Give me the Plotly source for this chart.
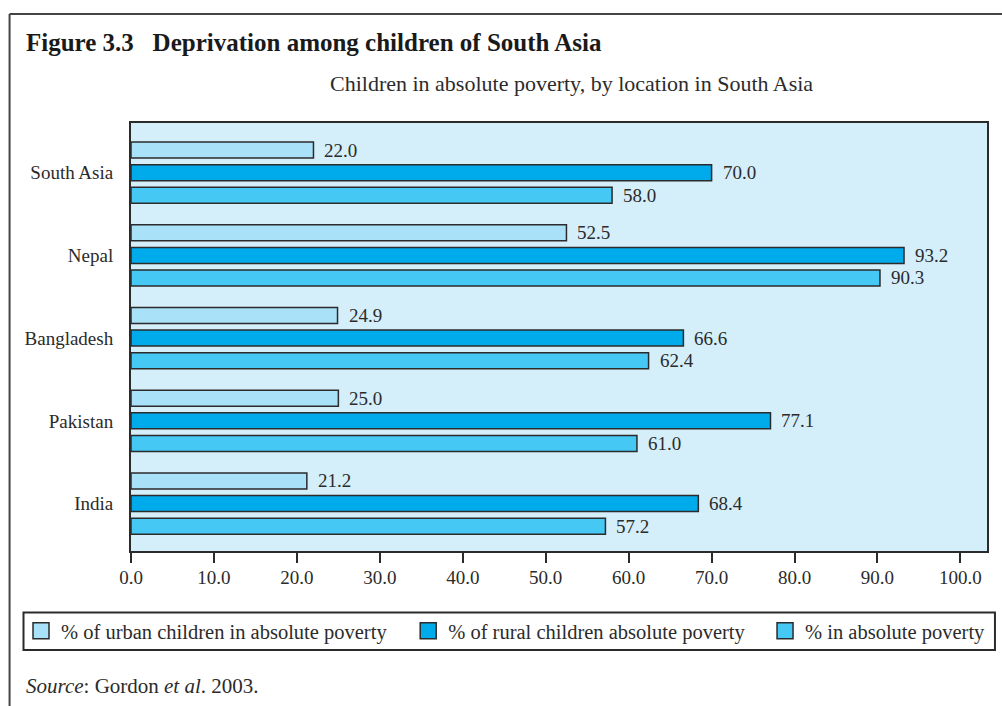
import plotly.graph_objects as go

# ---- data ----
countries = ["India", "Pakistan", "Bangladesh", "Nepal", "South Asia"]
urban = [21.2, 25.0, 24.9, 52.5, 22.0]
rural = [68.4, 77.1, 66.6, 93.2, 70.0]
total = [57.2, 61.0, 62.4, 90.3, 58.0]
series_names = [
    "% of urban children in absolute poverty",
    "% of rural children absolute poverty",
    "% in absolute poverty",
]
tick_vals = [0, 10, 20, 30, 40, 50, 60, 70, 80, 90, 100]
tick_text = ["%.1f" % v for v in tick_vals]

# ---- styling ----
W, H = 1002, 706
ML, MR, MT, MB = 131, 11, 123, 155
PW, PH = W - ML - MR, H - MT - MB
SERIF = "Liberation Serif, Times New Roman, serif"
INK = "#2b2b2b"
C_URBAN, C_RURAL, C_TOTAL = "#A9E1F9", "#00ABEB", "#46C8F4"
PLOT_BG = "#D4EEFA"


def px_x(p):
    return (p - ML) / PW


def px_y(p):
    return (H - MB - p) / PH


fig = go.Figure()

# drawn bottom-to-top inside each group: total, rural, urban
trace_specs = [
    (total, C_TOTAL),
    (rural, C_RURAL),
    (urban, C_URBAN),
]
for vals, color in trace_specs:
    fig.add_trace(go.Bar(
        x=vals, y=countries, orientation="h",
        marker=dict(color=color, line=dict(color=INK, width=1.5)),
        showlegend=False,
    ))

# legend keys (square swatches), one legend per entry
for name, color, lg in [
    (series_names[0], C_URBAN, "legend"),
    (series_names[1], C_RURAL, "legend2"),
    (series_names[2], C_TOTAL, "legend3"),
]:
    fig.add_trace(go.Scatter(
        x=[None], y=[None], mode="markers", name=name, legend=lg,
        marker=dict(symbol="square", size=16, color=color,
                    line=dict(color=INK, width=1.5)),
    ))

# value labels at the end of each bar
slot = 22.6  # pixel spacing between bars of a group
for vals, shift in [(urban, slot), (rural, 0), (total, -slot)]:
    for c, v in zip(countries, vals):
        fig.add_annotation(
            x=v, y=c, xref="x", yref="y", text="%.1f" % v,
            showarrow=False, xanchor="left", yanchor="middle",
            xshift=9, yshift=shift,
            font=dict(family=SERIF, size=19, color=INK),
        )

# titles and source
fig.add_annotation(
    x=px_x(24), y=px_y(42), xref="paper", yref="paper",
    text="<b>Figure 3.3   Deprivation among children of South Asia</b>",
    showarrow=False, xanchor="left", yanchor="middle",
    font=dict(family=SERIF, size=25, color="#1a1a1a"),
)
fig.add_annotation(
    x=px_x(574), y=px_y(83), xref="paper", yref="paper",
    text="Children in absolute poverty, by location in South Asia",
    showarrow=False, xanchor="center", yanchor="middle",
    font=dict(family=SERIF, size=22, color=INK),
)
fig.add_annotation(
    x=px_x(24), y=px_y(686), xref="paper", yref="paper",
    text="<i>Source</i>: Gordon <i>et al</i>. 2003.",
    showarrow=False, xanchor="left", yanchor="middle",
    font=dict(family=SERIF, size=21, color=INK),
)

# outer frame (top and left rules) and legend box
fig.add_shape(type="line", xref="paper", yref="paper",
              x0=px_x(9), x1=px_x(W + 5), y0=px_y(14), y1=px_y(14),
              line=dict(color="#444", width=2))
fig.add_shape(type="line", xref="paper", yref="paper",
              x0=px_x(9), x1=px_x(9), y0=px_y(14), y1=px_y(H + 5),
              line=dict(color="#444", width=2))
fig.add_shape(type="rect", xref="paper", yref="paper",
              x0=px_x(23), x1=px_x(999), y0=px_y(650), y1=px_y(612.5),
              line=dict(color=INK, width=2), fillcolor="rgba(0,0,0,0)")

leg_common = dict(
    orientation="h", yanchor="middle", y=px_y(631), xanchor="left",
    bgcolor="rgba(0,0,0,0)", borderwidth=0,
    font=dict(family=SERIF, size=20.5, color=INK),
)
fig.update_layout(
    legend=dict(x=px_x(20.5), **leg_common),
    legend2=dict(x=px_x(409.5), **leg_common),
    legend3=dict(x=px_x(768), **leg_common),
)

fig.update_layout(
    width=W, height=H,
    margin=dict(l=ML, r=MR, t=MT, b=MB),
    paper_bgcolor="white",
    plot_bgcolor=PLOT_BG,
    barmode="group",
    bargap=0.181,
    bargroupgap=0.292,
    showlegend=True,
    font=dict(family=SERIF, size=19, color=INK),
)
fig.update_xaxes(
    range=[0, PW / 8.333], tickvals=tick_vals, ticktext=tick_text,
    ticks="outside", ticklen=10, tickwidth=1.5, tickcolor=INK,
    ticklabelstandoff=-2,
    showgrid=False, zeroline=False,
    showline=True, linecolor=INK, linewidth=2, mirror=True,
    tickfont=dict(family=SERIF, size=19, color=INK),
)
fig.update_yaxes(
    type="category", categoryorder="array", categoryarray=countries,
    range=[-0.573, 4.6], ticks="", ticklabelstandoff=12,
    showgrid=False, zeroline=False,
    showline=True, linecolor=INK, linewidth=2, mirror=True,
    tickfont=dict(family=SERIF, size=19, color=INK),
)

fig.write_html("out.html")
